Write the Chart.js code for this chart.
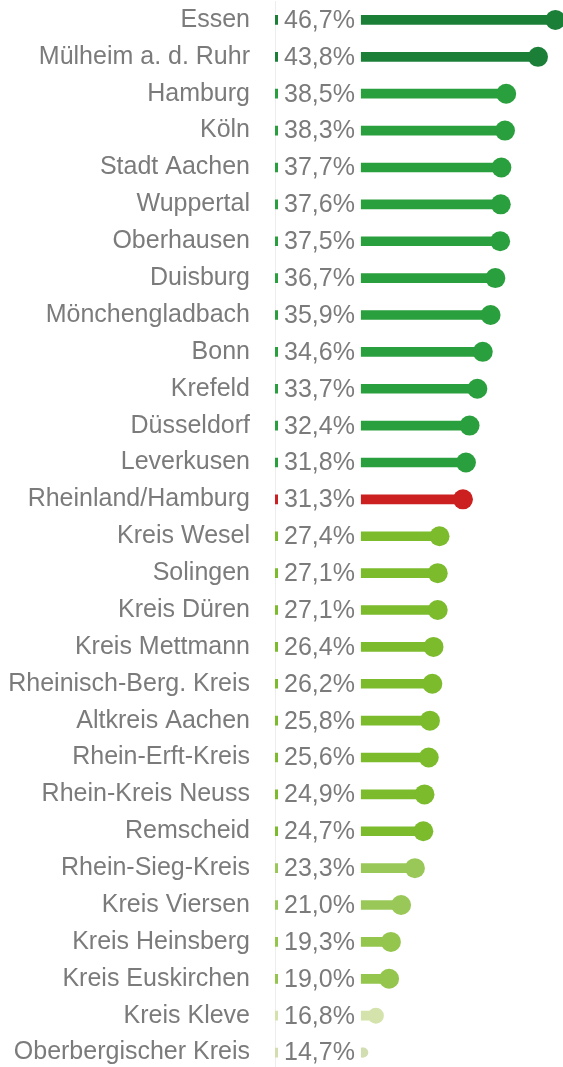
<!DOCTYPE html>
<html><head><meta charset="utf-8">
<script src="https://cdn.jsdelivr.net/npm/chart.js@4.4.0/dist/chart.umd.min.js"></script>
<style>html,body{margin:0;padding:0;background:#fff;overflow:hidden}#wrap{position:relative;width:563px;height:1071px}</style>
</head><body><div id="wrap"><canvas id="c"></canvas></div>
<script>
const categories = ["Essen","Mülheim a. d. Ruhr","Hamburg","Köln","Stadt Aachen","Wuppertal","Oberhausen","Duisburg","Mönchengladbach","Bonn","Krefeld","Düsseldorf","Leverkusen","Rheinland/Hamburg","Kreis Wesel","Solingen","Kreis Düren","Kreis Mettmann","Rheinisch-Berg. Kreis","Altkreis Aachen","Rhein-Erft-Kreis","Rhein-Kreis Neuss","Remscheid","Rhein-Sieg-Kreis","Kreis Viersen","Kreis Heinsberg","Kreis Euskirchen","Kreis Kleve","Oberbergischer Kreis"];
const values = [46.7,43.8,38.5,38.3,37.7,37.6,37.5,36.7,35.9,34.6,33.7,32.4,31.8,31.3,27.4,27.1,27.1,26.4,26.2,25.8,25.6,24.9,24.7,23.3,21.0,19.3,19.0,16.8,14.7];

const DARK = '#1b7f38', MID = '#2a9f3d', RED = '#cc1f1f', LIGHT = '#7bbb2c', PALE = '#9ac858', PALE2 = '#94c54c', FAINT = '#d3e3ab', FAINT2 = '#d2ddb2';
const colors = [DARK,DARK,MID,MID,MID,MID,MID,MID,MID,MID,MID,MID,MID,RED,LIGHT,LIGHT,LIGHT,LIGHT,LIGHT,LIGHT,LIGHT,LIGHT,LIGHT,PALE,PALE,PALE2,PALE2,FAINT,FAINT2];
const radii = categories.map((c,i)=> i===28 ? 5 : (i===27 ? 8 : 10));

const FONT = '"Liberation Sans", Arial, Helvetica, sans-serif';
const TEXT = '#7b7b7b';

const valueLabels = {
  id: 'valueLabels',
  afterDatasetsDraw(chart) {
    const {ctx} = chart;
    const xs = chart.scales.x, ys = chart.scales.y;
    const x0 = xs.getPixelForValue(0);
    ctx.save();
    ctx.font = '25px ' + FONT;
    ctx.textBaseline = 'middle';
    ctx.textAlign = 'left';
    values.forEach((v,i) => {
      const y = ys.getPixelForValue(i);
      const txt = v.toFixed(1).replace('.', ',') + '%';
      const w = ctx.measureText(txt).width;
      const tx = x0 + 9;
      ctx.fillStyle = '#fff';
      ctx.fillRect(x0 + 3, y - 7, (tx + w + 6) - (x0 + 3), 14);
      ctx.fillStyle = TEXT;
      ctx.fillText(txt, tx, y + 1);
    });
    ctx.restore();
  }
};

new Chart(document.getElementById('c'), {
  data: {
    labels: categories,
    datasets: [
      {
        type: 'bar',
        data: values,
        backgroundColor: colors,
        barThickness: 9,
        borderWidth: 0,
        order: 2
      },
      {
        type: 'line',
        data: values,
        showLine: false,
        pointRadius: radii,
        pointHoverRadius: radii,
        pointBackgroundColor: colors,
        pointBorderWidth: 0,
        clip: false,
        order: 1
      }
    ]
  },
  options: {
    indexAxis: 'y',
    responsive: true,
    maintainAspectRatio: false,
    animation: false,
    layout: {autoPadding: false, padding: {top: 1.5, right: 4, bottom: 0, left: 0}},
    plugins: {legend: {display: false}, tooltip: {enabled: false}},
    scales: {
      x: {display: false, min: 0, max: 47.3},
      y: {
        afterFit(scale) { scale.width = 275; scale.paddingTop = 0; scale.paddingBottom = 0; },
        grid: {display: false, drawTicks: false},
        border: {display: true, color: '#ededed', width: 1},
        ticks: {
          padding: 25,
          color: TEXT,
          font: {family: FONT, size: 25},
          autoSkip: false
        }
      }
    }
  },
  plugins: [valueLabels]
});
</script>
</body></html>
